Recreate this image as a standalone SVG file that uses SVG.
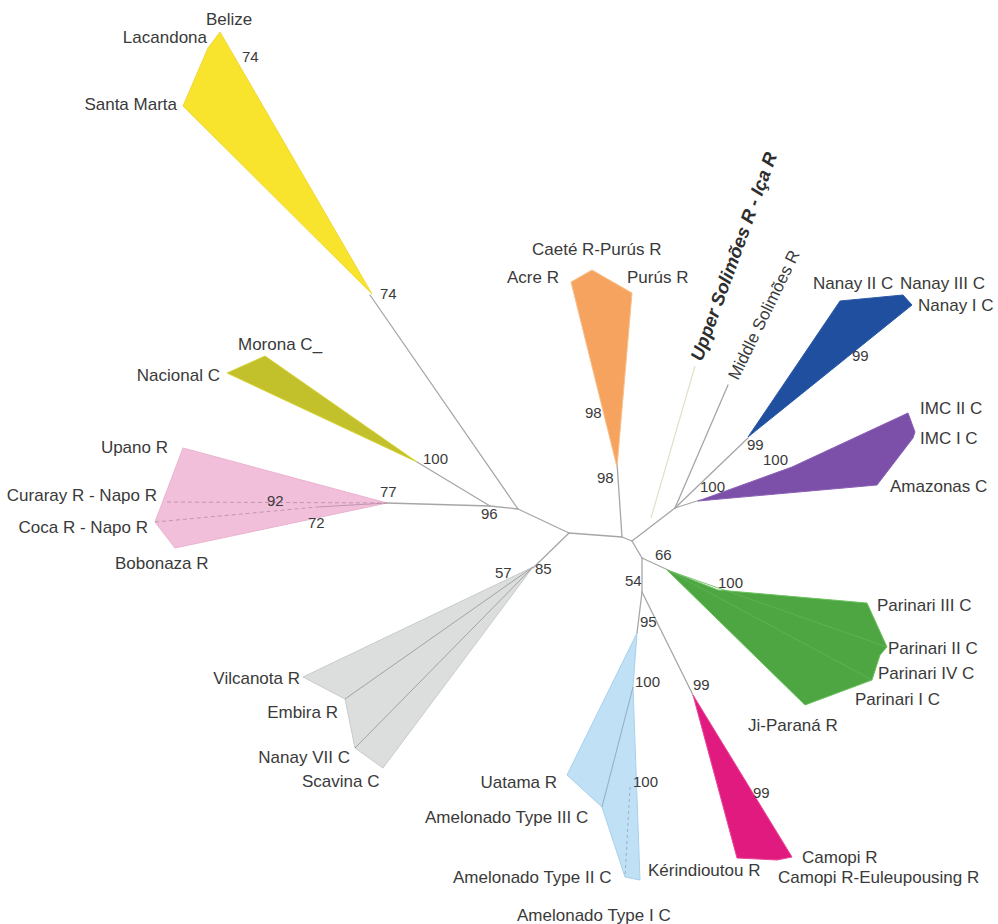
<svg xmlns="http://www.w3.org/2000/svg" width="998" height="924" viewBox="0 0 998 924">
<style>
.lbl{font-family:"Liberation Sans",Arial,sans-serif;font-size:17px;fill:#3a3a3a}
.num{font-family:"Liberation Sans",Arial,sans-serif;font-size:15px;fill:#3a3a3a}
.end{text-anchor:end}
.br{stroke:#a6a6a6;stroke-width:1.3;fill:none;stroke-linecap:round}
.clade{stroke-width:1;stroke-linejoin:round}
</style>
<rect width="998" height="924" fill="#ffffff"/>
<g id="connectors">
<line class="br" x1="370" y1="295" x2="518" y2="509"/>
<line class="br" x1="417" y1="462" x2="490" y2="506"/>
<line class="br" x1="387" y1="503" x2="490" y2="506"/>
<line class="br" x1="490" y1="506" x2="518" y2="509"/>
<line class="br" x1="518" y1="509" x2="569" y2="533"/>
<line class="br" x1="569" y1="533" x2="622" y2="537"/>
<line class="br" x1="569" y1="533" x2="533" y2="568"/>
<line class="br" x1="622" y1="537" x2="617" y2="463"/>
<line class="br" x1="622" y1="537" x2="632" y2="541"/>
<line class="br" x1="632" y1="541" x2="675" y2="508"/>
<line class="br" x1="675" y1="508" x2="748" y2="438"/>
<line class="br" x1="675" y1="508" x2="700" y2="500"/>
<line class="br" x1="675" y1="508" x2="728" y2="385"/>
<line x1="651" y1="518" x2="695" y2="366" stroke="#e4e0c6" stroke-width="1.2"/>
<line class="br" x1="632" y1="541" x2="642" y2="558"/>
<line class="br" x1="642" y1="558" x2="668" y2="570"/>
<line class="br" x1="642" y1="558" x2="642" y2="592"/>
<line class="br" x1="642" y1="592" x2="637" y2="633"/>
<line class="br" x1="642" y1="592" x2="693" y2="695"/>
</g>
<g id="clade-yellow">
<polygon class="clade" points="220,32 208,48 183,106 372,294" fill="#f8e42c" stroke="#efd83a"/>
<text class="lbl" x="206" y="25">Belize</text>
<text class="lbl end" x="207" y="43">Lacandona</text>
<text class="lbl end" x="177" y="110">Santa Marta</text>
<text class="num" x="242" y="62">74</text>
<text class="num" x="380" y="299">74</text>
</g>
<g id="clade-olive">
<polygon class="clade" points="265,356 227,373 417,462" fill="#c3c12b" stroke="#d6d33a"/>
<text class="lbl" x="238" y="350">Morona C_</text>
<text class="lbl end" x="220" y="381">Nacional C</text>
<text class="num" x="423" y="464">100</text>
</g>
<g id="clade-pink">
<polygon class="clade" points="183,448 387,503 175,548 155,522" fill="#f2bfdb" stroke="#e9b3cf"/>
<line x1="167" y1="502" x2="387" y2="503" stroke="#b58aa3" stroke-width="0.8" stroke-dasharray="4,3"/>
<line x1="155" y1="522" x2="317" y2="507" stroke="#b58aa3" stroke-width="0.8" stroke-dasharray="4,3"/>
<line x1="317" y1="507" x2="387" y2="503" stroke="#b58aa3" stroke-width="0.8"/>
<text class="lbl end" x="168" y="453">Upano R</text>
<text class="lbl end" x="157" y="501">Curaray R - Napo R</text>
<text class="lbl end" x="148" y="533">Coca R - Napo R</text>
<text class="lbl" x="115" y="569">Bobonaza R</text>
<text class="num" x="267" y="506">92</text>
<text class="num" x="380" y="497">77</text>
<text class="num" x="308" y="528">72</text>
<text class="num" x="481" y="519">96</text>
</g>
<g id="clade-grey">
<polygon class="clade" points="533,567 303,677 345,699 355,748 383,768" fill="#dcdddd" stroke="#c9caca"/>
<line x1="533" y1="567" x2="345" y2="699" stroke="#a2a2a2" stroke-width="1"/>
<line x1="533" y1="567" x2="355" y2="748" stroke="#a2a2a2" stroke-width="1"/>
<text class="lbl end" x="300" y="684">Vilcanota R</text>
<text class="lbl end" x="338" y="718">Embira R</text>
<text class="lbl end" x="350" y="763">Nanay VII C</text>
<text class="lbl" x="302" y="787">Scavina C</text>
<text class="num" x="495" y="578">57</text>
<text class="num" x="535" y="574">85</text>
</g>
<g id="clade-orange">
<polygon class="clade" points="571,282 592,270 632,293 617,467" fill="#f5a35e" stroke="#f8c08c"/>
<text class="lbl" x="532" y="255">Caeté R-Purús R</text>
<text class="lbl" x="507" y="283">Acre R</text>
<text class="lbl" x="627" y="283">Purús R</text>
<text class="num" x="585" y="418">98</text>
<text class="num" x="597" y="483">98</text>
</g>
<g id="solimoes">
<text x="702" y="362" transform="rotate(-70 702 362)" style="font-family:'Liberation Sans',Arial,sans-serif;font-size:18.5px;font-weight:bold;font-style:italic;fill:#2e2e2e">Upper Solimões R - Iça R</text>
<text class="lbl" x="738" y="381" transform="rotate(-64 738 381)">Middle Solimões R</text>
</g>
<g id="clade-blue">
<polygon class="clade" points="748,437 840,301 903,295 912,305" fill="#1f4f9e" stroke="#2a5aa8"/>
<text class="lbl" x="813" y="289">Nanay II C</text>
<text class="lbl" x="900" y="289">Nanay III C</text>
<text class="lbl" x="918" y="311">Nanay I C</text>
<text class="num" x="852" y="361">99</text>
<text class="num" x="747" y="450">99</text>
</g>
<g id="clade-purple">
<polygon class="clade" points="698,501 792,467 908,413 915,432 913,438 877,485" fill="#7c50a9" stroke="#8a60b5"/>
<text class="lbl" x="920" y="414">IMC II C</text>
<text class="lbl" x="920" y="444">IMC I C</text>
<text class="lbl" x="890" y="492">Amazonas C</text>
<text class="num" x="763" y="465">100</text>
<text class="num" x="700" y="492">100</text>
</g>
<g id="clade-green">
<polygon class="clade" points="667,570 718,590 867,603 887,647 880,655 872,680 805,705" fill="#4ea643" stroke="#6cc25e"/>
<line x1="667" y1="570" x2="887" y2="647" stroke="#62b456" stroke-width="0.8"/>
<line x1="667" y1="570" x2="872" y2="680" stroke="#62b456" stroke-width="0.8"/>
<text class="lbl" x="877" y="611">Parinari III C</text>
<text class="lbl" x="888" y="654">Parinari II C</text>
<text class="lbl" x="878" y="679">Parinari IV C</text>
<text class="lbl" x="855" y="705">Parinari I C</text>
<text class="lbl" x="748" y="731">Ji-Paraná R</text>
<text class="num" x="655" y="560">66</text>
<text class="num" x="625" y="586">54</text>
<text class="num" x="718" y="588">100</text>
</g>
<g id="clade-lightblue">
<polygon class="clade" points="637,633 567,775 602,807 625,877 640,880 633,687" fill="#bfe0f5" stroke="#a8d0ec"/>
<line x1="633" y1="687" x2="602" y2="807" stroke="#8aa7bd" stroke-width="0.9"/>
<line x1="630" y1="787" x2="625" y2="877" stroke="#8aa7bd" stroke-width="0.8" stroke-dasharray="3,3"/>
<text class="lbl end" x="557" y="788">Uatama R</text>
<text class="lbl" x="425" y="823">Amelonado Type III C</text>
<text class="lbl" x="453" y="883">Amelonado Type II C</text>
<text class="lbl" x="517" y="921">Amelonado Type I C</text>
<text class="num" x="640" y="627">95</text>
<text class="num" x="635" y="687">100</text>
<text class="num" x="633" y="787">100</text>
</g>
<g id="clade-magenta">
<polygon class="clade" points="693,695 737,858 777,860 792,857" fill="#e01a7e" stroke="#e8479a"/>
<text class="lbl" x="648" y="876">Kérindioutou R</text>
<text class="lbl" x="802" y="863">Camopi R</text>
<text class="lbl" x="778" y="883">Camopi R-Euleupousing R</text>
<text class="num" x="693" y="690">99</text>
<text class="num" x="753" y="798">99</text>
</g>
</svg>
